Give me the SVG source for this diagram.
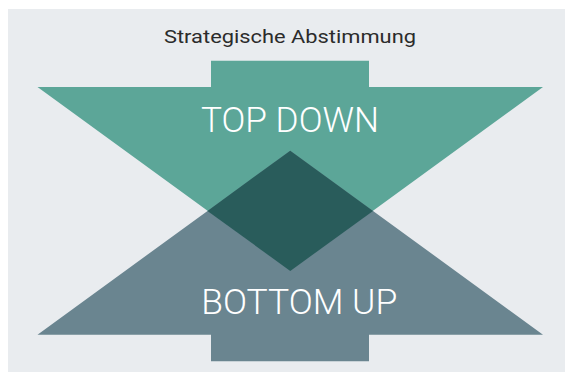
<svg xmlns="http://www.w3.org/2000/svg" width="565" height="372" viewBox="0 0 565 372">
<style>
.big{font-family:Roboto,"Liberation Sans",sans-serif;font-size:35px;font-weight:300;fill:#ffffff;text-anchor:middle}
.title{font-family:Roboto,"Liberation Sans",sans-serif;font-size:19px;fill:#2b2b2b;text-anchor:middle}
</style>
<rect x="0" y="0" width="565" height="372" fill="#ffffff"/>
<rect x="8" y="9" width="557" height="363" fill="#e9ecef"/>
<text class="title" x="290" y="42.5" textLength="252" lengthAdjust="spacingAndGlyphs">Strategische Abstimmung</text>
<g id="top-down">
<polygon points="211,60.7 369,60.7 369,87 543,87 290.25,271 37.5,87 211,87" fill="#5ca698"/>
<text class="big" x="290" y="131.7" textLength="178" lengthAdjust="spacingAndGlyphs">TOP DOWN</text>
</g>
<g id="bottom-up">
<polygon points="290.25,150.7 543,334.7 369,334.7 369,361.3 211,361.3 211,334.7 37.5,334.7" fill="#6a8590"/>
<text class="big" x="299.3" y="314" textLength="196" lengthAdjust="spacingAndGlyphs">BOTTOM UP</text>
</g>
<g id="overlap">
<polygon points="290.25,150.7 373,210.9 290.25,271 207.5,210.9" fill="#295c5b"/>
</g>
<g id="connectors"></g>
</svg>
